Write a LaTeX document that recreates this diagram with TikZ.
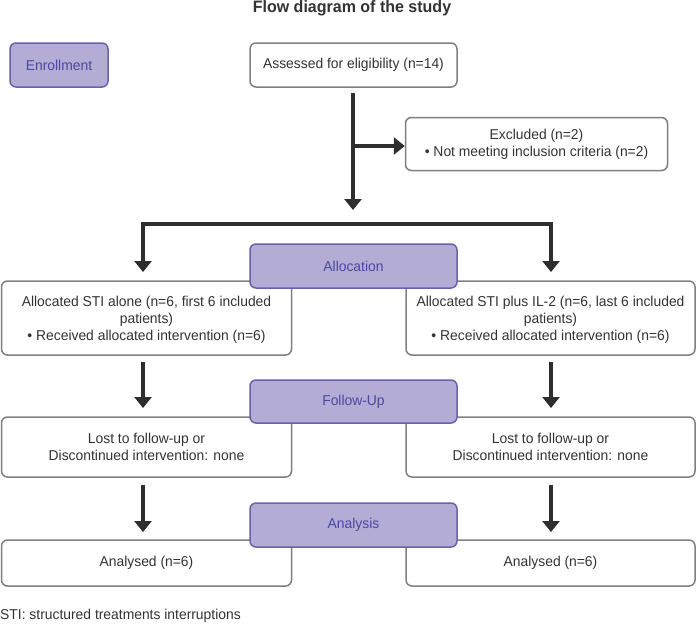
\documentclass[tikz,border=0pt]{standalone}
\usepackage{fontspec}
\setmainfont[FakeStretch=0.97]{Liberation Sans}
\usetikzlibrary{arrows.meta}
\definecolor{pfill}{HTML}{B3ADD6}
\definecolor{pborder}{HTML}{6B5FAE}
\definecolor{ptext}{HTML}{4A48A0}
\definecolor{gborder}{HTML}{7F7F7F}
\definecolor{darr}{HTML}{2E2E2E}
\definecolor{tcol}{HTML}{333333}
\tikzset{
  wbox/.style={draw=gborder, line width=1.5pt, rounded corners=6pt, fill=white, align=center,
    inner sep=0pt, font=\fontsize{14.3}{16.7}\selectfont, text=tcol},
  pbox/.style={draw=pborder, fill=pfill, text=ptext, line width=1.5pt, rounded corners=6pt,
    minimum width=207pt, minimum height=44pt, inner sep=0pt, font=\fontsize{14.3}{16.7}\selectfont},
  arr/.style={line width=3.2pt, draw=darr, -{Triangle[width=17pt,length=11pt]}},
}
\begin{document}
\begin{tikzpicture}[x=1pt,y=-1pt]
\useasboundingbox (0,0) rectangle (696,624);
\node[font=\fontsize{16.5}{18}\selectfont\bfseries, text=tcol] (title) at (352,8) {Flow diagram of the study};

% white boxes
\node[wbox, minimum width=207pt, minimum height=44pt] (assess) at (353.5,65) {Assessed for eligibility (n=14)};
\node[wbox, minimum width=262pt, minimum height=53pt] (excl) at (536.5,144) {Excluded (n=2)\\ • Not meeting inclusion criteria (n=2)};
\node[wbox, minimum width=290pt, minimum height=74pt] (allocL) at (146.5,318) {\\[-3pt]Allocated STI alone (n=6, first 6 included\\ patients)\\ • Received allocated intervention (n=6)};
\node[wbox, minimum width=289pt, minimum height=74pt] (allocR) at (550.5,318) {\\[-3pt]Allocated STI plus IL-2 (n=6, last 6 included\\ patients)\\ • Received allocated intervention (n=6)};
\node[wbox, minimum width=290pt, minimum height=60pt] (lostL) at (146.5,447) {Lost to follow-up or\\ Discontinued intervention: none};
\node[wbox, minimum width=289pt, minimum height=60pt] (lostR) at (550.5,447) {Lost to follow-up or\\ Discontinued intervention: none};
\node[wbox, minimum width=290pt, minimum height=46pt] (anaL) at (146.5,563) {Analysed (n=6)};
\node[wbox, minimum width=289pt, minimum height=46pt] (anaR) at (550.5,563) {Analysed (n=6)};

% purple boxes
\node[pbox, minimum width=98pt] (enroll) at (59,65) {Enrollment};
\node[pbox] (alloc) at (353.5,266) {Allocation};
\node[pbox, minimum height=43pt] (follow) at (353.5,401.5) {Follow-Up};
\node[pbox] (analysis) at (353.5,525) {Analysis};

% coordinates
\coordinate (a0) at (353,93);
\coordinate (a1) at (353,210);
\coordinate (ex) at (353,146);
\coordinate (sm) at (353,224);
\coordinate (tL) at (143,272);
\coordinate (tR) at (551,272);
\coordinate (fL0) at (143,362);
\coordinate (fL1) at (143,408);
\coordinate (fR0) at (551,362);
\coordinate (fR1) at (551,408);
\coordinate (nL0) at (143,485);
\coordinate (nL1) at (143,532);
\coordinate (nR0) at (551,485);
\coordinate (nR1) at (551,532);

\draw[arr] (a0) -- (a1);
\draw[arr] (ex) -- (ex -| excl.west);
\draw[arr] (sm) -| (tL);
\draw[arr] (sm) -| (tR);
\draw[arr] (fL0) -- (fL1);
\draw[arr] (fR0) -- (fR1);
\draw[arr] (nL0) -- (nL1);
\draw[arr] (nR0) -- (nR1);

\node[anchor=west, inner sep=0pt, font=\fontsize{14.3}{16}\selectfont, text=tcol] (foot) at (0,616) {STI: structured treatments interruptions};
\end{tikzpicture}
\end{document}
